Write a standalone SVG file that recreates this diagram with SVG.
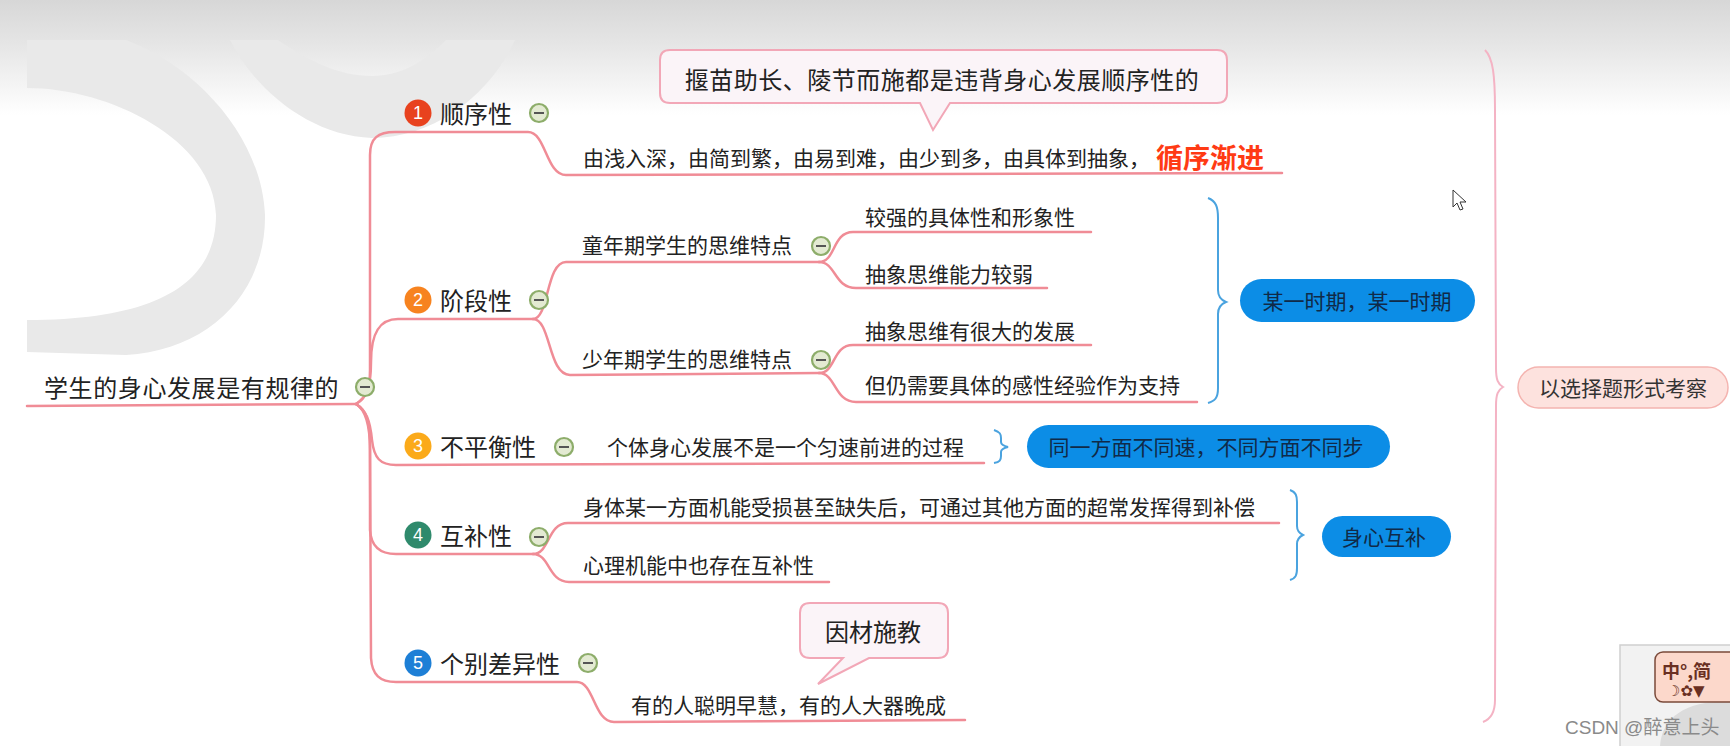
<svg xmlns="http://www.w3.org/2000/svg" width="1730" height="746" viewBox="0 0 1730 746">
<style>
text{font-family:"Noto Sans CJK SC","Noto Sans",sans-serif;fill:#222;dominant-baseline:central}
.t1{font-size:24px}
.t2{font-size:21px}
.conn{fill:none;stroke:#f08c96;stroke-width:2.5;stroke-linecap:round;stroke-linejoin:round}
.brace{fill:none;stroke:#4aa3df;stroke-width:2}
.pbrace{fill:none;stroke:#f4b3c4;stroke-width:2}
.badge text{fill:#fff;font-family:"Liberation Sans",sans-serif;font-size:18px;text-anchor:middle}
.bpill{fill:#0c8de6}
.bt{fill:#102a48;font-size:21px;text-anchor:middle}
.call{fill:#fbf4f8;stroke:#f2a7b7;stroke-width:2}
</style>
<defs>
<linearGradient id="bg" x1="0" y1="0" x2="0" y2="1">
<stop offset="0" stop-color="#d7d7d7"/>
<stop offset="0.4" stop-color="#e6e6e6"/>
<stop offset="1" stop-color="#ffffff"/>
</linearGradient>
<g id="minus"><circle r="9" fill="#e3ead2" stroke="#8dad6a" stroke-width="2.2"/><line x1="-5" y1="0" x2="5" y2="0" stroke="#555" stroke-width="2"/></g>
</defs>
<rect width="1730" height="746" fill="#fff"/>
<rect width="1730" height="115" fill="url(#bg)"/>
<!-- watermark shapes -->
<g fill="#e9e9e9">
<path fill-rule="evenodd" d="M27,40 L126,40 C200,68 262,140 265,215 C266,292 210,350 126,355 L27,352 Z M27,88 C110,88 214,140 216,215 C216,282 160,320 27,320 Z"/>
<path d="M230,40 C255,90 310,136 372,138 C435,138 490,95 515,40 L446,40 C425,62 400,76 372,76 C340,76 310,62 278,40 Z"/>
</g>
<!-- connectors -->
<g id="connectors">
<path class="conn" d="M27,406 L356,404"/>
<path class="conn" d="M356,404 C366,398 370,390 370,370 L370,155 C370,138 378,132 395,132 L528,132 C546,132 546,175 566,175 L1282,173"/>
<path class="conn" d="M356,404 C366,398 371,388 371,362 C371,332 380,319 398,319 L533,319"/>
<path class="conn" d="M533,319 C549,319 546,262 566,262 L819,262"/>
<path class="conn" d="M533,319 C551,319 548,375 570,375 L819,373"/>
<path class="conn" d="M819,262 C836,262 832,232 853,232 L1091,232"/>
<path class="conn" d="M819,262 C836,262 834,288 856,288 L1047,288"/>
<path class="conn" d="M819,373 C836,373 832,345 853,345 L1091,345"/>
<path class="conn" d="M819,373 C836,373 834,402 856,402 L1197,402"/>
<path class="conn" d="M356,404 C366,410 370,420 372,440 C374,458 380,465 396,465 L984,463"/>
<path class="conn" d="M356,404 C366,410 370,420 370,445 L370,530 C371,547 380,554 396,554 L533,554"/>
<path class="conn" d="M533,554 C550,554 547,523 568,523 L1279,523"/>
<path class="conn" d="M533,554 C550,554 548,582 569,582 L829,582"/>
<path class="conn" d="M356,404 C366,410 370,425 370,450 L371,658 C372,675 380,682 396,682 L577,682 C594,682 594,722 614,722 L965,720"/>
<path class="brace" d="M1208,198 C1216,201 1218,207 1218,218 L1218,290 C1218,297 1221,300 1226,302 C1221,304 1218,307 1218,314 L1218,388 C1218,398 1215,401 1208,403"/>
<path class="brace" d="M994,430 C1000,432 1001,434 1001,438 L1001,442 C1001,445 1004,446 1008,447 C1004,448 1001,449 1001,452 L1001,456 C1001,460 1000,462 994,463"/>
<path class="brace" d="M1290,490 C1296,492 1297,496 1297,502 L1297,526 C1297,531 1299,533 1303,535 C1299,537 1297,539 1297,544 L1297,568 C1297,575 1296,578 1290,580"/>
<path class="pbrace" d="M1485,50 C1493,58 1495,75 1495,110 L1496,368 C1496,380 1498,384 1503,387 C1498,390 1496,394 1496,406 L1495,700 C1495,712 1491,719 1483,722"/>
</g>
<!-- root -->
<g id="root">
<text class="t1" x="44" y="386" style="letter-spacing:0.6px">学生的身心发展是有规律的</text>
<use href="#minus" x="365" y="387"/>
</g>
<!-- topics -->
<g id="n1">
<g class="badge"><circle cx="418" cy="113" r="13.5" fill="#e8421e"/><text x="418" y="113">1</text></g>
<text class="t1" x="440" y="112">顺序性</text>
<use href="#minus" x="539" y="113"/>
</g>
<g id="n1a">
<text class="t2" x="583" y="157">由浅入深，由简到繁，由易到难，由少到多，由具体到抽象，</text>
<text x="1156" y="156" style="font-size:27px;font-weight:bold;fill:#ff3b14">循序渐进</text>
</g>
<g id="callout1">
<path class="call" d="M670,50 L1217,50 Q1227,50 1227,60 L1227,93 Q1227,103 1217,103 L950,103 L933,130 L920,103 L670,103 Q660,103 660,93 L660,60 Q660,50 670,50 Z"/>
<text class="t1" x="942" y="78" text-anchor="middle" style="letter-spacing:0.5px">揠苗助长、陵节而施都是违背身心发展顺序性的</text>
</g>
<g id="n2">
<g class="badge"><circle cx="418" cy="300" r="13.5" fill="#f7831f"/><text x="418" y="300">2</text></g>
<text class="t1" x="440" y="299">阶段性</text>
<use href="#minus" x="539" y="300"/>
</g>
<g id="n2a">
<text class="t2" x="582" y="244">童年期学生的思维特点</text>
<use href="#minus" x="821" y="246"/>
</g>
<g id="n2a1"><text class="t2" x="865" y="216">较强的具体性和形象性</text></g>
<g id="n2a2"><text class="t2" x="865" y="273">抽象思维能力较弱</text></g>
<g id="n2b">
<text class="t2" x="582" y="358">少年期学生的思维特点</text>
<use href="#minus" x="821" y="360"/>
</g>
<g id="n2b1"><text class="t2" x="865" y="330">抽象思维有很大的发展</text></g>
<g id="n2b2"><text class="t2" x="865" y="384">但仍需要具体的感性经验作为支持</text></g>
<g id="pill2">
<rect class="bpill" x="1240" y="279" width="235" height="43" rx="21.5"/>
<text class="bt" x="1357" y="300">某一时期，某一时期</text>
</g>
<g id="n3">
<g class="badge"><circle cx="418" cy="446" r="13.5" fill="#fbaa1a"/><text x="418" y="446">3</text></g>
<text class="t1" x="440" y="445">不平衡性</text>
<use href="#minus" x="564" y="447"/>
</g>
<g id="n3a"><text class="t2" x="607" y="446">个体身心发展不是一个匀速前进的过程</text></g>
<g id="pill3">
<rect class="bpill" x="1027" y="425" width="363" height="43" rx="21.5"/>
<text class="bt" x="1206" y="446">同一方面不同速，不同方面不同步</text>
</g>
<g id="n4">
<g class="badge"><circle cx="418" cy="535" r="13.5" fill="#2f8a6c"/><text x="418" y="535">4</text></g>
<text class="t1" x="440" y="534">互补性</text>
<use href="#minus" x="539" y="537"/>
</g>
<g id="n4a"><text class="t2" x="583" y="506">身体某一方面机能受损甚至缺失后，可通过其他方面的超常发挥得到补偿</text></g>
<g id="n4b"><text class="t2" x="583" y="564">心理机能中也存在互补性</text></g>
<g id="pill4">
<rect class="bpill" x="1322" y="516" width="129" height="41" rx="20.5"/>
<text class="bt" x="1384" y="536">身心互补</text>
</g>
<g id="n5">
<g class="badge"><circle cx="418" cy="663" r="13.5" fill="#1d7fd6"/><text x="418" y="663">5</text></g>
<text class="t1" x="440" y="662">个别差异性</text>
<use href="#minus" x="588" y="663"/>
</g>
<g id="n5a"><text class="t2" x="631" y="704">有的人聪明早慧，有的人大器晚成</text></g>
<g id="callout2">
<path class="call" d="M810,603 L938,603 Q948,603 948,613 L948,648 Q948,658 938,658 L869,658 L818,684 L843,658 L810,658 Q800,658 800,648 L800,613 Q800,603 810,603 Z"/>
<text class="t1" x="873" y="630" text-anchor="middle">因材施教</text>
</g>
<g id="exam">
<rect x="1518" y="367" width="210" height="41" rx="20.5" fill="#fde2de" stroke="#f4b4b0" stroke-width="1.5"/>
<text class="t2" x="1623" y="387" text-anchor="middle" style="fill:#333">以选择题形式考察</text>
</g>
<!-- mouse cursor -->
<path d="M1453,190 L1453,207 L1457,203 L1460,210 L1463,209 L1460,202 L1466,202 Z" fill="#fff" stroke="#333" stroke-width="1"/>
<!-- IME widget -->
<g id="ime">
<rect x="1620" y="645" width="112" height="103" fill="#f2f2f2" stroke="#cfcfcf" stroke-width="1.5"/>
<path d="M1660,746 C1662,715 1690,700 1730,702 L1730,746 Z" fill="#dcdcdc"/>
<rect x="1655" y="652" width="85" height="50" rx="8" fill="#fcd8cb" stroke="#7a4a3a" stroke-width="1.5"/>
<text x="1662" y="670" style="font-size:18px;font-weight:bold;fill:#6a2f22">中°,简</text>
<text x="1667" y="691" style="font-size:15px;font-family:'DejaVu Sans',sans-serif;fill:#6a2f22">☽✿▼</text>
</g>
<text x="1565" y="727" style="font-size:19px;fill:#8a8a8a;font-family:'Liberation Sans','Noto Sans CJK SC',sans-serif">CSDN @醉意上头</text>
</svg>
